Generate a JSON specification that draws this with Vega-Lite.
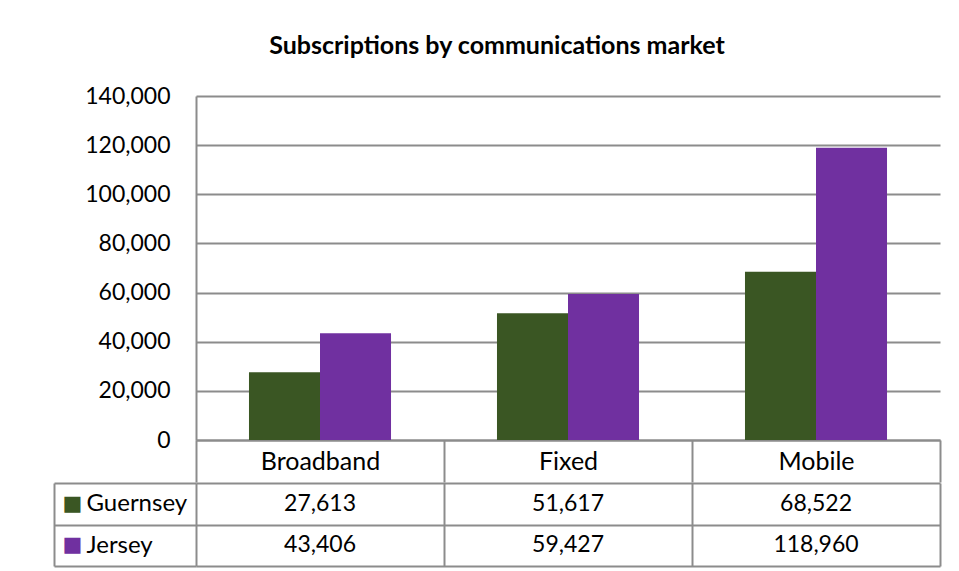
{
  "$schema": "https://vega.github.io/schema/vega-lite/v6.json",
  "padding": {"left": 53, "top": 34, "right": 5, "bottom": 5},
  "autosize": {"type": "pad"},
  "background": "#ffffff",
  "title": {"text": "Subscriptions by communications market", "font": "Lato", "fontSize": 25, "fontWeight": "bold", "color": "#000000", "anchor": "middle", "offset": 26},
  "data": {"values": [
    {"market": "Broadband", "island": "Guernsey", "value": 27613},
    {"market": "Broadband", "island": "Jersey", "value": 43406},
    {"market": "Fixed", "island": "Guernsey", "value": 51617},
    {"market": "Fixed", "island": "Jersey", "value": 59427},
    {"market": "Mobile", "island": "Guernsey", "value": 68522},
    {"market": "Mobile", "island": "Jersey", "value": 118960}
  ]},
  "spacing": -14,
  "vconcat": [
    {
      "width": 744,
      "height": 344,
      "mark": {"type": "bar"},
      "encoding": {
        "x": {"field": "market", "type": "nominal", "sort": ["Broadband", "Fixed", "Mobile"],
          "scale": {"paddingInner": 0, "paddingOuter": 0},
          "axis": {"title": null, "orient": "bottom", "labelAngle": 0, "tickBand": "extent", "ticks": true, "tickSize": 42, "tickColor": "#8c8c8c", "tickWidth": 2, "domainColor": "#8c8c8c", "domainWidth": 2, "labelPadding": -21, "labelBaseline": "middle", "labelFont": "Lato", "labelFontSize": 25, "labelColor": "#000000"}},
        "xOffset": {"field": "island", "type": "nominal", "sort": ["Guernsey", "Jersey"], "scale": {"paddingInner": 0, "paddingOuter": 0.746}},
        "y": {"field": "value", "type": "quantitative", "scale": {"domain": [0, 140000], "nice": false},
          "axis": {"title": null, "values": [0, 20000, 40000, 60000, 80000, 100000, 120000, 140000], "format": ",d", "grid": true, "gridColor": "#8c8c8c", "gridWidth": 2, "ticks": false, "domain": true, "domainColor": "#8c8c8c", "domainWidth": 2, "labelPadding": 26, "labelFont": "Lato", "labelFontSize": 23, "labelColor": "#000000"}},
        "color": {"field": "island", "type": "nominal", "scale": {"domain": ["Guernsey", "Jersey"], "range": ["#3a5623", "#7030a0"]}, "legend": null}
      }
    },
    {
      "width": 744,
      "height": 83,
      "layer": [
        {
          "mark": {"type": "text", "font": "Lato", "fontSize": 23, "color": "#000000", "baseline": "middle"},
          "encoding": {
            "x": {"field": "market", "type": "nominal", "sort": ["Broadband", "Fixed", "Mobile"],
              "scale": {"paddingInner": 0, "paddingOuter": 0},
              "axis": {"orient": "bottom", "title": null, "labels": false, "ticks": false, "domain": false, "grid": true, "tickBand": "extent", "gridColor": "#8c8c8c", "gridWidth": 2}},
            "y": {"field": "island", "type": "nominal", "sort": ["Guernsey", "Jersey"],
              "scale": {"paddingInner": 0, "paddingOuter": 0},
              "axis": {"title": null, "orient": "left", "offset": 142, "domain": true, "domainColor": "#8c8c8c", "domainWidth": 2, "ticks": true, "tickBand": "extent", "tickSize": -142, "tickColor": "#8c8c8c", "tickWidth": 2, "grid": true, "gridColor": "#8c8c8c", "gridWidth": 2, "labelAlign": "left", "labelPadding": 110, "labelFont": "Lato", "labelFontSize": 24, "labelColor": "#000000", "labelBaseline": "middle"}},
            "text": {"field": "value", "type": "quantitative", "format": ",d"}
          }
        },
        {
          "mark": {"type": "text", "opacity": 0},
          "encoding": {
            "y": {"field": "island", "type": "nominal", "sort": ["Guernsey", "Jersey"],
              "axis": {"title": null, "orient": "left", "offset": 142, "domain": false, "ticks": false, "grid": false, "labelExpr": "'■'", "labelAlign": "left", "labelPadding": -8, "labelFont": "DejaVu Sans", "labelFontSize": 21, "labelColor": {"condition": {"test": "datum.value === 'Guernsey'", "value": "#3a5623"}, "value": "#7030a0"}, "labelBaseline": "middle"}},
            "text": {"value": ""}
          }
        }
      ],
      "resolve": {"axis": {"y": "independent"}}
    }
  ],
  "config": {"view": {"stroke": null}}
}
